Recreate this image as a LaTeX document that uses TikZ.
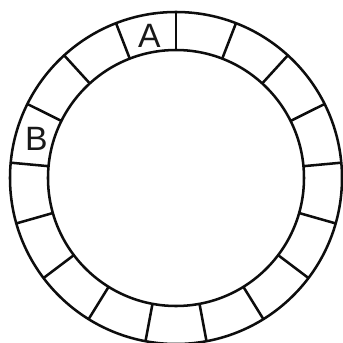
\documentclass[tikz,border=0pt]{standalone}
\usepackage{fontspec}
\setmainfont{Liberation Sans}
\usepackage{tikz}
\usetikzlibrary{
    arrows.meta,
    positioning,
    calc
}

\begin{document}
\begin{tikzpicture}[
    x=0.025cm, y=0.025cm,
    ring/.style={
        draw=black!95,
        line width=1.8pt
    },
    divider/.style={
        draw=black!95,
        line width=1.8pt
    },
    letter/.style={
        font=\fontsize{24}{26}\selectfont,
        text=black!90,
        inner sep=0pt
    }
]

% ============================================================
% MARCO
% ============================================================
\useasboundingbox (-176,-165) rectangle (167,178);

% ============================================================
% ANILLO
% ============================================================
\coordinate (centro) at (0,0);
\draw[ring] (centro) circle[radius=166];
\draw[ring] (centro) circle[radius=128];

% Divisiones (17 sectores)
\foreach \i in {0,...,16}{
    \coordinate (in\i)  at ($(centro)+({90+\i*360/17}:128)$);
    \coordinate (out\i) at ($(centro)+({90+\i*360/17}:166)$);
    \draw[divider] (in\i) -- (out\i);
}

% ============================================================
% ETIQUETAS
% ============================================================
\node[letter] (labA) at ($(centro)+(100.6:145)$) {A};
\node[letter] (labB) at ($(centro)+(164.3:145)$) {B};

\end{tikzpicture}
\end{document}
